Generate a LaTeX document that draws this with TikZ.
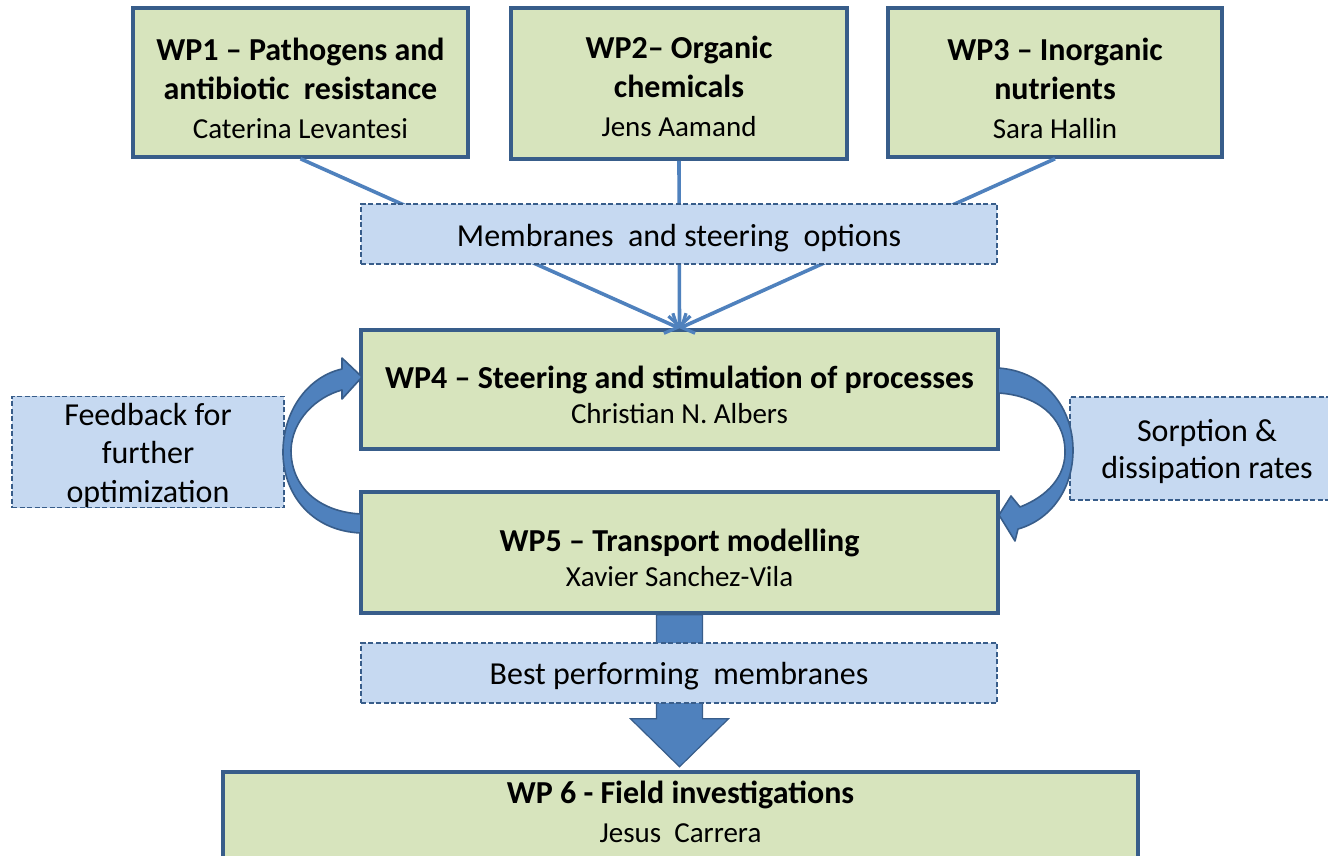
\documentclass[tikz,border=0pt]{standalone}
\usepackage{fontspec}
\setmainfont{Carlito}
\usetikzlibrary{arrows.meta}
\definecolor{gfill}{HTML}{D7E4BD}
\definecolor{bfill}{HTML}{C6D9F1}
\definecolor{bdr}{HTML}{385D8A}
\definecolor{acc}{HTML}{4F81BD}
\newcommand{\nmA}[1]{{\fontsize{29}{39}\selectfont #1}}
\newcommand{\nmB}[1]{{\fontsize{29}{35.5}\selectfont #1}}
\newcommand{\up}[1]{\rule{0pt}{#1}}
\begin{document}
\begin{tikzpicture}[x=1pt,y=-1pt,
  wpbox/.style={draw=bdr, line width=3.5pt, fill=gfill, align=center, inner sep=0pt},
  dbox/.style={draw=bdr, line width=1.8pt, dash pattern=on 5pt off 2.5pt, fill=bfill, align=center, inner sep=0pt},
  feedline/.style={draw=acc, line width=3.6pt, -{Straight Barb[length=10pt,width=22pt,line width=3.2pt]}},
  curv/.style={fill=acc, draw=bdr, line width=1.6pt, line join=round},
  bigarrow/.style={fill=acc, draw=bdr, line width=1.2pt, line join=miter},
  tf/.style={font=\fontsize{32}{39}\selectfont},
  tg/.style={font=\fontsize{32}{35.5}\selectfont}]
\clip (0,0) rectangle (1328,855);
\fill[white] (0,0) rectangle (1328,855);

\node[wpbox, tf, minimum width=335pt, minimum height=149pt] (wp1) at (300.5,82.5)
  {\up{35pt}\textbf{WP1 – Pathogens and}\\\textbf{antibiotic\ \ resistance}\\\nmA{Caterina Levantesi}};
\node[wpbox, tf, minimum width=336pt, minimum height=151pt] (wp2) at (679,83.5)
  {\up{29pt}\textbf{WP2– Organic}\\\textbf{chemicals}\\\nmA{Jens Aamand}};
\node[wpbox, tf, minimum width=334pt, minimum height=149pt] (wp3) at (1055,82.5)
  {\up{35pt}\textbf{WP3 – Inorganic}\\\textbf{nutrients}\\\nmA{Sara Hallin}};
\node[wpbox, tg, minimum width=637pt, minimum height=119pt] (wp4) at (679.5,389.5)
  {\up{33pt}\textbf{WP4 – Steering and stimulation of processes}\\\nmB{Christian N. Albers}};
\node[wpbox, tg, minimum width=637pt, minimum height=121pt] (wp5) at (679.5,552.5)
  {\up{33pt}\textbf{WP5 – Transport modelling}\\\nmB{Xavier Sanchez-Vila}};

\draw[feedline] (wp1.south) -- (wp4.north);
\draw[feedline] (wp2.south) -- (wp4.north);
\draw[feedline] (wp3.south) -- (wp4.north);

\node[dbox, tf, minimum width=636pt, minimum height=60pt] (mem) at (679,234)
  {\up{31pt}Membranes\ \ and steering\ \ options};

\draw[bigarrow] ([xshift=-23pt]wp5.south) -- ++(0,104) -- ++(-26,0) -- ++(49,48)
  -- ++(49,-48) -- ++(-26,0) -- ++(0,-104) -- cycle;

\node[dbox, tf, minimum width=636pt, minimum height=60pt] (best) at (679,673)
  {\up{29pt}Best performing\ \ membranes};

\node[wpbox, minimum width=915pt, minimum height=140pt, anchor=north] (wp6) at (680.5,770) {};
\node[tf, align=center, anchor=north] (wp6t) at ([yshift=-7pt]wp6.north)
  {\textbf{WP 6 - Field investigations}\\\nmA{Jesus\ \ Carrera}};

\node[dbox, font=\fontsize{32}{38.5}\selectfont, minimum width=272pt, minimum height=106pt] (fb) at (148,452)
  {\up{29pt}Feedback for\\further\\optimization};
\node[dbox, font=\fontsize{32}{37}\selectfont, minimum width=274pt, minimum height=103pt] (sr) at (1207,448.5)
  {\up{29pt}Sorption \&\\dissipation rates};

% curved arrow WP5 -> WP4 (left)
\path[curv] (361,533) .. controls (310,531) and (282,492) .. (283,450)
  .. controls (284,408) and (310,376) .. (342,369)
  -- (342,358) -- (362,377) -- (342,399) -- (342,390)
  .. controls (316,397) and (292,420) .. (291,450)
  .. controls (291,488) and (320,512) .. (361,514) -- cycle;
% curved arrow WP4 -> WP5 (right)
\path[curv] (998,368) .. controls (1045,371) and (1073,408) .. (1073,450)
  .. controls (1073,490) and (1050,520) .. (1018,529)
  -- (1015,541) -- (999,515) -- (1011,496) -- (1020,507)
  .. controls (1048,496) and (1066,476) .. (1065,450)
  .. controls (1064,416) and (1036,395) .. (998,393) -- cycle;
\end{tikzpicture}
\end{document}
